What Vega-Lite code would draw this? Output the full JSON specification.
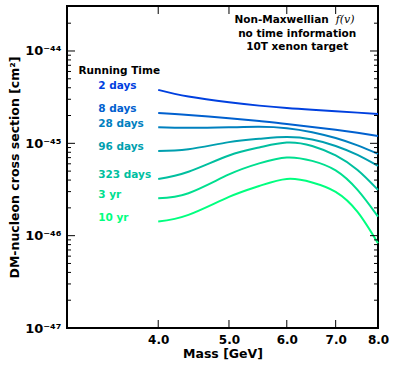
{
  "$schema": "https://vega.github.io/schema/vega-lite/v6.json",
  "width": 311,
  "height": 322,
  "autosize": {"type": "none"},
  "padding": {"left": 67, "top": 6, "right": 18, "bottom": 37},
  "background": "white",
  "config": {
    "view": {"stroke": "black", "strokeWidth": 2},
    "font": "DejaVu Sans"
  },
  "datasets": {
    "curves": [
      {"series": "2 days", "mass": 4.0, "sigma": 3.79e-45},
      {"series": "2 days", "mass": 4.4, "sigma": 3.21e-45},
      {"series": "2 days", "mass": 5.0, "sigma": 2.78e-45},
      {"series": "2 days", "mass": 5.5, "sigma": 2.56e-45},
      {"series": "2 days", "mass": 6.0, "sigma": 2.41e-45},
      {"series": "2 days", "mass": 6.5, "sigma": 2.31e-45},
      {"series": "2 days", "mass": 7.0, "sigma": 2.23e-45},
      {"series": "2 days", "mass": 7.5, "sigma": 2.15e-45},
      {"series": "2 days", "mass": 8.0, "sigma": 2.08e-45},
      {"series": "8 days", "mass": 4.0, "sigma": 2.13e-45},
      {"series": "8 days", "mass": 4.4, "sigma": 2.03e-45},
      {"series": "8 days", "mass": 5.0, "sigma": 1.87e-45},
      {"series": "8 days", "mass": 5.5, "sigma": 1.74e-45},
      {"series": "8 days", "mass": 6.0, "sigma": 1.62e-45},
      {"series": "8 days", "mass": 6.5, "sigma": 1.50e-45},
      {"series": "8 days", "mass": 7.0, "sigma": 1.40e-45},
      {"series": "8 days", "mass": 7.5, "sigma": 1.30e-45},
      {"series": "8 days", "mass": 8.0, "sigma": 1.20e-45},
      {"series": "28 days", "mass": 4.0, "sigma": 1.49e-45},
      {"series": "28 days", "mass": 4.4, "sigma": 1.47e-45},
      {"series": "28 days", "mass": 5.0, "sigma": 1.49e-45},
      {"series": "28 days", "mass": 5.5, "sigma": 1.51e-45},
      {"series": "28 days", "mass": 6.0, "sigma": 1.46e-45},
      {"series": "28 days", "mass": 6.5, "sigma": 1.32e-45},
      {"series": "28 days", "mass": 7.0, "sigma": 1.14e-45},
      {"series": "28 days", "mass": 7.5, "sigma": 9.49e-46},
      {"series": "28 days", "mass": 8.0, "sigma": 7.68e-46},
      {"series": "96 days", "mass": 4.0, "sigma": 8.27e-46},
      {"series": "96 days", "mass": 4.4, "sigma": 8.63e-46},
      {"series": "96 days", "mass": 5.0, "sigma": 1.03e-45},
      {"series": "96 days", "mass": 5.5, "sigma": 1.12e-45},
      {"series": "96 days", "mass": 6.0, "sigma": 1.17e-45},
      {"series": "96 days", "mass": 6.5, "sigma": 1.10e-45},
      {"series": "96 days", "mass": 7.0, "sigma": 9.37e-46},
      {"series": "96 days", "mass": 7.5, "sigma": 7.49e-46},
      {"series": "96 days", "mass": 8.0, "sigma": 5.69e-46},
      {"series": "323 days", "mass": 4.0, "sigma": 4.11e-46},
      {"series": "323 days", "mass": 4.4, "sigma": 4.93e-46},
      {"series": "323 days", "mass": 5.0, "sigma": 7.39e-46},
      {"series": "323 days", "mass": 5.5, "sigma": 9.03e-46},
      {"series": "323 days", "mass": 6.0, "sigma": 1.02e-45},
      {"series": "323 days", "mass": 6.5, "sigma": 9.37e-46},
      {"series": "323 days", "mass": 7.0, "sigma": 7.39e-46},
      {"series": "323 days", "mass": 7.5, "sigma": 5.15e-46},
      {"series": "323 days", "mass": 8.0, "sigma": 3.13e-46},
      {"series": "3 yr", "mass": 4.0, "sigma": 2.54e-46},
      {"series": "3 yr", "mass": 4.4, "sigma": 2.88e-46},
      {"series": "3 yr", "mass": 5.0, "sigma": 4.60e-46},
      {"series": "3 yr", "mass": 5.5, "sigma": 6.06e-46},
      {"series": "3 yr", "mass": 6.0, "sigma": 7.03e-46},
      {"series": "3 yr", "mass": 6.5, "sigma": 6.45e-46},
      {"series": "3 yr", "mass": 7.0, "sigma": 5.09e-46},
      {"series": "3 yr", "mass": 7.5, "sigma": 3.13e-46},
      {"series": "3 yr", "mass": 8.0, "sigma": 1.61e-46},
      {"series": "10 yr", "mass": 4.0, "sigma": 1.42e-46},
      {"series": "10 yr", "mass": 4.4, "sigma": 1.68e-46},
      {"series": "10 yr", "mass": 5.0, "sigma": 2.63e-46},
      {"series": "10 yr", "mass": 5.5, "sigma": 3.45e-46},
      {"series": "10 yr", "mass": 6.0, "sigma": 4.11e-46},
      {"series": "10 yr", "mass": 6.5, "sigma": 3.77e-46},
      {"series": "10 yr", "mass": 7.0, "sigma": 2.98e-46},
      {"series": "10 yr", "mass": 7.5, "sigma": 1.81e-46},
      {"series": "10 yr", "mass": 8.0, "sigma": 8.27e-47}
    ],
    "notes": [
      {"text": "Running Time", "mass": 3.11, "sigma": 6.0e-45},
      {"text": "Non-Maxwellian", "mass": 6.85, "sigma": 2.17e-44},
      {"text": "f(v)", "mass": 7.0, "sigma": 2.17e-44},
      {"text": "no time information", "mass": 6.2, "sigma": 1.53e-44},
      {"text": "10T xenon target", "mass": 6.2, "sigma": 1.106e-44}
    ],
    "majorX": [{"mass": 4}, {"mass": 5}, {"mass": 6}, {"mass": 7}],
    "majorY": [{"sigma": 1e-46}, {"sigma": 1e-45}, {"sigma": 1e-44}],
    "minorY": [
      {"sigma": 2e-47}, {"sigma": 3e-47}, {"sigma": 4e-47}, {"sigma": 5e-47}, {"sigma": 6e-47}, {"sigma": 7e-47}, {"sigma": 8e-47}, {"sigma": 9e-47},
      {"sigma": 2e-46}, {"sigma": 3e-46}, {"sigma": 4e-46}, {"sigma": 5e-46}, {"sigma": 6e-46}, {"sigma": 7e-46}, {"sigma": 8e-46}, {"sigma": 9e-46},
      {"sigma": 2e-45}, {"sigma": 3e-45}, {"sigma": 4e-45}, {"sigma": 5e-45}, {"sigma": 6e-45}, {"sigma": 7e-45}, {"sigma": 8e-45}, {"sigma": 9e-45},
      {"sigma": 2e-44}
    ]
  },
  "resolve": {"axis": {"x": "independent", "y": "independent"}},
  "layer": [
    {
      "data": {"name": "curves"},
      "mark": {"type": "line", "strokeWidth": 2, "interpolate": "natural"},
      "encoding": {
        "x": {"field": "mass", "type": "quantitative", "scale": {"type": "log", "domain": [3, 8], "nice": false},
          "axis": {"orient": "bottom", "values": [4, 5, 6, 7, 8], "format": ".1f", "title": "Mass [GeV]", "grid": false, "domain": false, "ticks": false, "labelPadding": 6, "labelFont": "DejaVu Sans", "labelFontWeight": "bold", "labelFontSize": 12, "labelColor": "black", "labelFlush": false, "labelOverlap": false, "titleFont": "DejaVu Sans", "titleFontWeight": "bold", "titleFontSize": 12.5, "titleColor": "black", "titlePadding": 2}},
        "y": {"field": "sigma", "type": "quantitative", "scale": {"type": "log", "domain": [1e-47, 3.07e-44], "nice": false},
          "axis": {"orient": "left", "values": [1e-47, 1e-46, 1e-45, 1e-44], "labelExpr": "datum.value < 2e-47 ? '10⁻⁴⁷' : datum.value < 2e-46 ? '10⁻⁴⁶' : datum.value < 2e-45 ? '10⁻⁴⁵' : '10⁻⁴⁴'", "title": "DM-nucleon cross section [cm²]", "grid": false, "domain": false, "ticks": false, "labelPadding": 6, "labelFont": "DejaVu Sans", "labelFontWeight": "bold", "labelFontSize": 13, "labelColor": "black", "labelOverlap": false, "labelFlush": false, "titleFont": "DejaVu Sans", "titleFontWeight": "bold", "titleFontSize": 12.5, "titleColor": "black", "titlePadding": 3}},
        "color": {"field": "series", "type": "nominal", "legend": null,
          "scale": {"domain": ["2 days", "8 days", "28 days", "96 days", "323 days", "3 yr", "10 yr"], "range": ["#0040df", "#0060cf", "#0080bf", "#009faf", "#00bf9f", "#00df8f", "#00ff7f"]}}
      }
    },
    {
      "data": {"name": "majorX"},
      "mark": {"type": "tick", "orient": "vertical", "size": 16, "thickness": 1, "color": "black", "opacity": 1, "clip": true},
      "encoding": {
        "x": {"field": "mass", "type": "quantitative", "axis": null},
        "y": {"datum": 1e-47, "type": "quantitative", "axis": null}
      }
    },
    {
      "data": {"name": "majorX"},
      "mark": {"type": "tick", "orient": "vertical", "size": 16, "thickness": 1, "color": "black", "opacity": 1, "clip": true},
      "encoding": {
        "x": {"field": "mass", "type": "quantitative", "axis": null},
        "y": {"datum": 3.07e-44, "type": "quantitative", "axis": null}
      }
    },
    {
      "data": {"name": "majorY"},
      "mark": {"type": "tick", "orient": "horizontal", "size": 16, "thickness": 1, "color": "black", "opacity": 1, "clip": true},
      "encoding": {
        "x": {"datum": 3, "type": "quantitative", "axis": null},
        "y": {"field": "sigma", "type": "quantitative", "axis": null}
      }
    },
    {
      "data": {"name": "majorY"},
      "mark": {"type": "tick", "orient": "horizontal", "size": 16, "thickness": 1, "color": "black", "opacity": 1, "clip": true},
      "encoding": {
        "x": {"datum": 8, "type": "quantitative", "axis": null},
        "y": {"field": "sigma", "type": "quantitative", "axis": null}
      }
    },
    {
      "data": {"name": "minorY"},
      "mark": {"type": "tick", "orient": "horizontal", "size": 8, "thickness": 1, "color": "black", "opacity": 1, "clip": true},
      "encoding": {
        "x": {"datum": 3, "type": "quantitative", "axis": null},
        "y": {"field": "sigma", "type": "quantitative", "axis": null}
      }
    },
    {
      "data": {"name": "minorY"},
      "mark": {"type": "tick", "orient": "horizontal", "size": 8, "thickness": 1, "color": "black", "opacity": 1, "clip": true},
      "encoding": {
        "x": {"datum": 8, "type": "quantitative", "axis": null},
        "y": {"field": "sigma", "type": "quantitative", "axis": null}
      }
    },
    {
      "data": {"name": "curves"},
      "transform": [{"filter": "datum.mass == 4"}],
      "mark": {"type": "text", "align": "left", "baseline": "middle", "dx": -60, "dy": -3.5, "font": "DejaVu Sans", "fontWeight": "bold", "fontSize": 10.5},
      "encoding": {
        "x": {"field": "mass", "type": "quantitative", "axis": null},
        "y": {"field": "sigma", "type": "quantitative", "axis": null},
        "text": {"field": "series"},
        "color": {"field": "series", "type": "nominal", "legend": null}
      }
    },
    {
      "data": {"name": "notes"},
      "transform": [{"filter": "datum.text == 'Running Time'"}],
      "mark": {"type": "text", "align": "left", "baseline": "middle", "font": "DejaVu Sans", "fontWeight": "bold", "fontSize": 10.5, "color": "black"},
      "encoding": {
        "x": {"field": "mass", "type": "quantitative", "axis": null},
        "y": {"field": "sigma", "type": "quantitative", "axis": null},
        "text": {"field": "text"}
      }
    },
    {
      "data": {"name": "notes"},
      "transform": [{"filter": "datum.text == 'Non-Maxwellian'"}],
      "mark": {"type": "text", "align": "right", "baseline": "middle", "font": "DejaVu Sans", "fontWeight": "bold", "fontSize": 10.5, "color": "black"},
      "encoding": {
        "x": {"field": "mass", "type": "quantitative", "axis": null},
        "y": {"field": "sigma", "type": "quantitative", "axis": null},
        "text": {"field": "text"}
      }
    },
    {
      "data": {"name": "notes"},
      "transform": [{"filter": "datum.text == 'f(v)'"}],
      "mark": {"type": "text", "align": "left", "baseline": "middle", "font": "DejaVu Serif", "fontStyle": "italic", "fontSize": 11, "color": "black"},
      "encoding": {
        "x": {"field": "mass", "type": "quantitative", "axis": null},
        "y": {"field": "sigma", "type": "quantitative", "axis": null},
        "text": {"field": "text"}
      }
    },
    {
      "data": {"name": "notes"},
      "transform": [{"filter": "datum.text == 'no time information' || datum.text == '10T xenon target'"}],
      "mark": {"type": "text", "align": "center", "baseline": "middle", "font": "DejaVu Sans", "fontWeight": "bold", "fontSize": 10.5, "color": "black"},
      "encoding": {
        "x": {"field": "mass", "type": "quantitative", "axis": null},
        "y": {"field": "sigma", "type": "quantitative", "axis": null},
        "text": {"field": "text"}
      }
    }
  ]
}
